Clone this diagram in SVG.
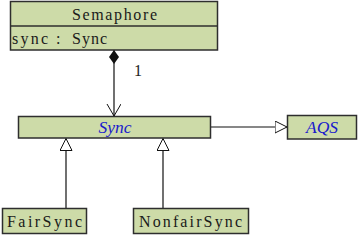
<svg xmlns="http://www.w3.org/2000/svg" width="360" height="235" viewBox="0 0 360 235">
<defs>
<style>
.box{fill:#cddba8;stroke:#2e2e2e;stroke-width:1.5}
.t{font-family:"Liberation Serif",serif;font-size:16px;fill:#1a1a1a}
.it{font-family:"Liberation Serif",serif;font-style:italic;font-size:17.5px;fill:#1a1acc}
.ln{stroke:#111;stroke-width:1.2;fill:none}
</style>
<marker id="gen" markerWidth="14" markerHeight="14" refX="12" refY="6" orient="auto" markerUnits="userSpaceOnUse">
<path d="M0,0 L12,6 L0,12 Z" fill="#fff" stroke="#111" stroke-width="1"/>
</marker>
<marker id="open" markerWidth="14" markerHeight="16" refX="12" refY="7" orient="auto" markerUnits="userSpaceOnUse">
<path d="M0,0 L12,7 L0,14" fill="none" stroke="#111" stroke-width="1"/>
</marker>
<marker id="dia" markerWidth="18" markerHeight="12" refX="0" refY="5" orient="auto" markerUnits="userSpaceOnUse">
<path d="M0,5 L7,0 L14,5 L7,10 Z" fill="#111"/>
</marker>
</defs>
<rect width="360" height="235" fill="#fff"/>
<g id="connectors">
<line class="ln" x1="114" y1="50" x2="114" y2="116" marker-start="url(#dia)" marker-end="url(#open)"/>
<text x="134" y="76" font-family="Liberation Serif,serif" font-size="16" fill="#222">1</text>
<line class="ln" x1="211" y1="127" x2="287" y2="127" marker-end="url(#gen)"/>
<line class="ln" x1="66" y1="208" x2="66" y2="138.5" marker-end="url(#gen)"/>
<line class="ln" x1="163" y1="208" x2="163" y2="138.5" marker-end="url(#gen)"/>
</g>
<g id="Semaphore">
<rect class="box" x="10.5" y="1.5" width="207" height="48.5"/>
<line x1="10.5" y1="26" x2="217.5" y2="26" stroke="#2e2e2e" stroke-width="1.5"/>
<text class="t" x="72" y="20" textLength="85" lengthAdjust="spacing">Semaphore</text>
<text class="t" y="44"><tspan x="12" textLength="36" lengthAdjust="spacing">sync</tspan><tspan x="56">:</tspan><tspan x="72" textLength="35" lengthAdjust="spacing">Sync</tspan></text>
</g>
<g id="Sync">
<rect class="box" x="18.5" y="116.5" width="192" height="21.5"/>
<text class="it" x="115" y="133" text-anchor="middle">Sync</text>
</g>
<g id="AQS">
<rect class="box" x="287.5" y="115.5" width="69" height="23.5"/>
<text class="it" x="322" y="133" text-anchor="middle">AQS</text>
</g>
<g id="FairSync">
<rect class="box" x="2.5" y="208.5" width="84" height="25"/>
<text class="t" x="7" y="227" textLength="75" lengthAdjust="spacing">FairSync</text>
</g>
<g id="NonfairSync">
<rect class="box" x="133.5" y="208.5" width="115" height="25"/>
<text class="t" x="139" y="227" textLength="103" lengthAdjust="spacing">NonfairSync</text>
</g>
</svg>
